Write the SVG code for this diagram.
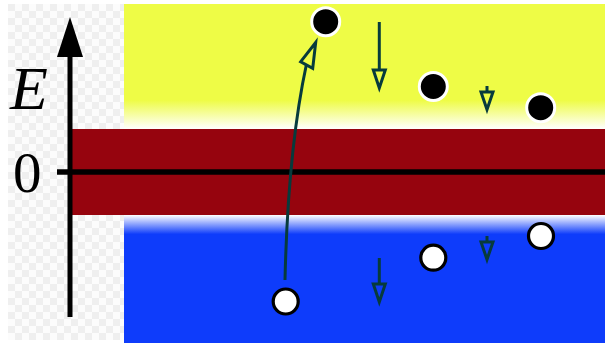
<svg xmlns="http://www.w3.org/2000/svg" width="605" height="343" viewBox="0 0 605 343">
  <style>
    .arrow { fill: none; stroke: #073b3c; stroke-width: 3; stroke-linejoin: miter; }
    .electron { fill: #000; stroke: #fff; stroke-width: 3; }
    .hole { fill: #fff; stroke: #000; stroke-width: 3.2; }
    .label { font-family: "Liberation Serif", "DejaVu Serif", serif; fill: #000; }
  </style>
  <defs>
    <pattern id="checker" x="8" y="4" width="14" height="14" patternUnits="userSpaceOnUse">
      <rect width="14" height="14" fill="#fcfcfc"/>
      <rect width="7" height="7" fill="#efefef"/>
      <rect x="7" y="7" width="7" height="7" fill="#efefef"/>
    </pattern>
    <linearGradient id="yellowGrad" x1="0" y1="4" x2="0" y2="129" gradientUnits="userSpaceOnUse">
      <stop offset="0" stop-color="#eefc46"/>
      <stop offset="0.77" stop-color="#eefc46"/>
      <stop offset="1" stop-color="#ffffff"/>
    </linearGradient>
    <linearGradient id="blueGrad" x1="0" y1="215" x2="0" y2="343" gradientUnits="userSpaceOnUse">
      <stop offset="0" stop-color="#ffffff"/>
      <stop offset="0.15" stop-color="#0e3cfb"/>
      <stop offset="1" stop-color="#0e3cfb"/>
    </linearGradient>
  </defs>

  <rect width="605" height="343" fill="#ffffff"/>
  <rect x="8" y="4" width="597" height="336" fill="url(#checker)"/>

  <g id="conduction-band">
    <rect x="124" y="4" width="481" height="125" fill="url(#yellowGrad)"/>
  </g>
  <g id="valence-band">
    <rect x="124" y="215" width="481" height="128" fill="url(#blueGrad)"/>
  </g>
  <g id="gap">
    <rect x="72" y="129" width="533" height="86" fill="#96040e"/>
  </g>

  <g id="axes">
    <line x1="70" y1="317" x2="70" y2="50" stroke="#000" stroke-width="5"/>
    <polygon points="70,17 57,57 83,57" fill="#000"/>
    <line x1="57" y1="172" x2="605" y2="172" stroke="#000" stroke-width="5.5"/>
    <text class="label" x="10" y="109" font-size="62" font-style="italic">E</text>
    <text class="label" x="13" y="192" font-size="57">0</text>
  </g>

  <g id="connectors">
    <path class="arrow" d="M285,280 Q288,150 306.5,64"/>
    <polygon class="arrow" points="315.7,42.5 300.7,61.7 312.7,68.3"/>
    <line class="arrow" x1="379.3" y1="22" x2="379.3" y2="70"/>
    <polygon class="arrow" points="373.3,70 385.3,70 379.3,88"/>
    <line class="arrow" x1="487" y1="86" x2="487" y2="92"/>
    <polygon class="arrow" points="481,92 493,92 487,109.5"/>
    <line class="arrow" x1="379.3" y1="258" x2="379.3" y2="284"/>
    <polygon class="arrow" points="373.3,284 385.3,284 379.3,302"/>
    <line class="arrow" x1="487" y1="236" x2="487" y2="242"/>
    <polygon class="arrow" points="481,242 493,242 487,259.5"/>
  </g>

  <g id="electron-1"><circle class="electron" cx="325.7" cy="21.7" r="14"/></g>
  <g id="electron-2"><circle class="electron" cx="433.3" cy="86.5" r="14"/></g>
  <g id="electron-3"><circle class="electron" cx="540.7" cy="107.7" r="14"/></g>
  <g id="hole-1"><circle class="hole" cx="285.7" cy="301.5" r="12.5"/></g>
  <g id="hole-2"><circle class="hole" cx="433.3" cy="257.7" r="12.5"/></g>
  <g id="hole-3"><circle class="hole" cx="541" cy="236" r="12.5"/></g>
</svg>
